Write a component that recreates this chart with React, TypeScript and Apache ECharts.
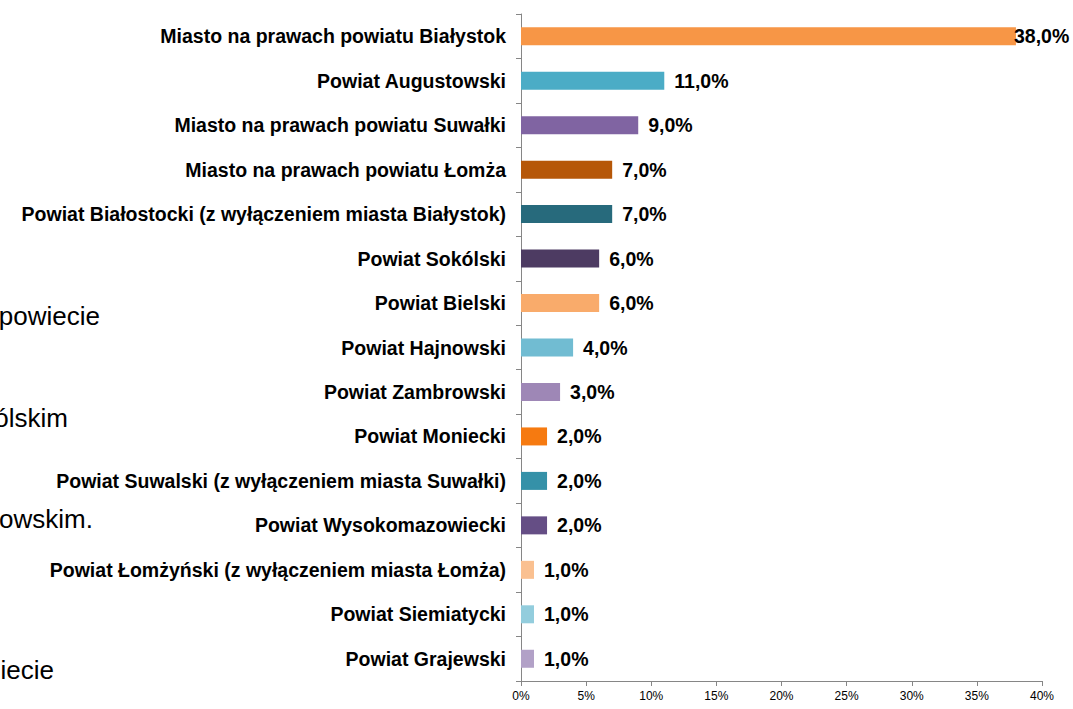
import React, { useEffect, useRef } from "react";
import * as echarts from "echarts";

const categories = [
  "Miasto na prawach powiatu Białystok",
  "Powiat Augustowski",
  "Miasto na prawach powiatu Suwałki",
  "Miasto na prawach powiatu Łomża",
  "Powiat Białostocki (z wyłączeniem miasta Białystok)",
  "Powiat Sokólski",
  "Powiat Bielski",
  "Powiat Hajnowski",
  "Powiat Zambrowski",
  "Powiat Moniecki",
  "Powiat Suwalski (z wyłączeniem miasta Suwałki)",
  "Powiat Wysokomazowiecki",
  "Powiat Łomżyński (z wyłączeniem miasta Łomża)",
  "Powiat Siemiatycki",
  "Powiat Grajewski",
];

const values = [38, 11, 9, 7, 7, 6, 6, 4, 3, 2, 2, 2, 1, 1, 1];

const colors = [
  "#F79646", "#4BACC6", "#8064A2", "#B65708", "#276A7C",
  "#4D3B62", "#F9AB6B", "#71BCD2", "#9E87B6", "#F67A10",
  "#3591A8", "#654E85", "#FAC090", "#93CDDD", "#B2A1C7",
];

const xTicks = { min: 0, max: 40, interval: 5 };

const backgroundFragments = [
  { text: "powiecie", x: 100, y: 316 },
  { text: "ólskim", x: 68, y: 418 },
  { text: "owskim.", x: 93, y: 519 },
  { text: "iecie", x: 54, y: 670 },
];

export default function App() {
  const ref = useRef<HTMLDivElement>(null);

  useEffect(() => {
    document.body.style.margin = "0";
    const chart = echarts.init(ref.current!, null, { renderer: "svg" });
    const font = "'Liberation Sans', Arial, sans-serif";
    chart.setOption({
      animation: false,
      backgroundColor: "#ffffff",
      textStyle: { fontFamily: font },
      grid: { left: 521, right: 31, top: 14, bottom: 28, containLabel: false },
      xAxis: {
        type: "value",
        min: xTicks.min,
        max: xTicks.max,
        interval: xTicks.interval,
        axisLine: { show: true, lineStyle: { color: "#868686", width: 1 } },
        axisTick: { show: true, length: 5, lineStyle: { color: "#868686" } },
        splitLine: { show: false },
        axisLabel: {
          formatter: "{value}%",
          color: "#000",
          fontSize: 12,
          fontFamily: font,
          margin: 9,
        },
      },
      yAxis: {
        type: "category",
        data: categories,
        inverse: true,
        axisLine: { show: true, lineStyle: { color: "#868686", width: 1 } },
        axisTick: { show: true, length: 5, alignWithLabel: false, lineStyle: { color: "#868686" } },
        axisLabel: {
          color: "#000",
          fontSize: 19.5,
          fontWeight: "bold",
          fontFamily: font,
          margin: 15,
        },
      },
      graphic: backgroundFragments.map((f) => ({
        type: "text",
        x: f.x,
        y: f.y,
        style: {
          text: f.text,
          fill: "#000",
          font: `26px ${font}`,
          align: "right",
          verticalAlign: "middle",
        },
      })),
      series: [
        {
          type: "bar",
          barWidth: 18,
          data: values.map((v, i) => ({
            value: v,
            itemStyle: { color: colors[i] },
            label: { distance: i === 0 ? -2 : 10 },
          })),
          label: {
            show: true,
            position: "right",
            color: "#000",
            fontSize: 19.5,
            fontWeight: "bold",
            fontFamily: font,
            formatter: (p: any) => p.value.toFixed(1).replace(".", ",") + "%",
          },
        },
      ],
    });
    return () => chart.dispose();
  }, []);

  return (
    <div
      ref={ref}
      style={{ position: "absolute", left: 0, top: 0, width: 1073, height: 709 }}
    />
  );
}
